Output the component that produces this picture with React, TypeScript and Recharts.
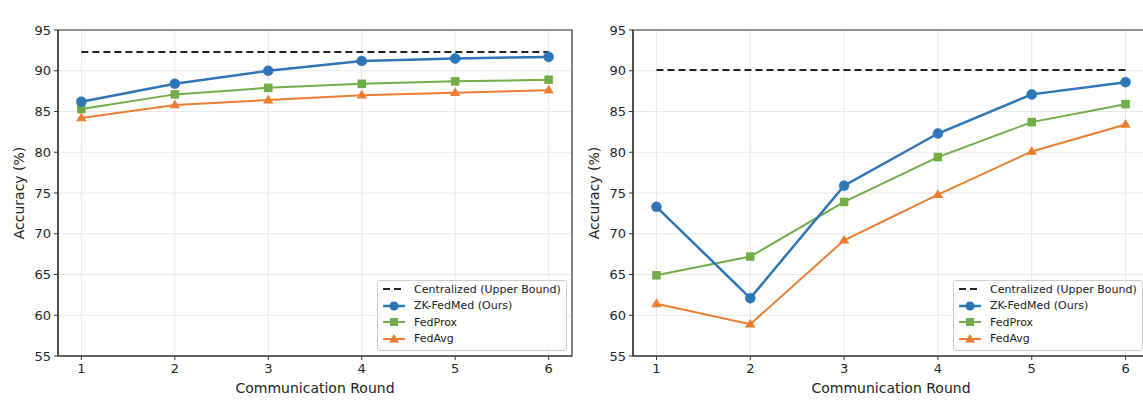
import React from 'react';
import { LineChart, Line, XAxis, YAxis, CartesianGrid, Legend, ReferenceArea } from 'recharts';

const rounds = [1, 2, 3, 4, 5, 6];
const yTicks = [55, 60, 65, 70, 75, 80, 85, 90, 95];

const cvdCentralized = [92.3, 92.3, 92.3, 92.3, 92.3, 92.3];
const cvdZkFedMed = [86.2, 88.4, 90.0, 91.2, 91.5, 91.7];
const cvdFedProx = [85.3, 87.1, 87.9, 88.4, 88.7, 88.9];
const cvdFedAvg = [84.2, 85.8, 86.4, 87.0, 87.3, 87.6];

const ckdCentralized = [90.1, 90.1, 90.1, 90.1, 90.1, 90.1];
const ckdZkFedMed = [73.3, 62.1, 75.9, 82.3, 87.1, 88.6];
const ckdFedProx = [64.9, 67.2, 73.9, 79.4, 83.7, 85.9];
const ckdFedAvg = [61.4, 58.9, 69.2, 74.8, 80.1, 83.4];

const seriesNames = ['Centralized (Upper Bound)', 'ZK-FedMed (Ours)', 'FedProx', 'FedAvg'];

const BLUE = '#2E75B6';
const GREEN = '#70AD47';
const ORANGE = '#ED7D31';
const DARK = '#222222';
const FONT = '"DejaVu Sans", Verdana, sans-serif';
const X_DOMAIN: [number, number] = [0.75, 6.25];
const Y_DOMAIN: [number, number] = [55, 95];

function build(c: number[], z: number[], p: number[], a: number[]) {
  return rounds.map((r, i) => ({ round: r, central: c[i], zk: z[i], prox: p[i], avg: a[i] }));
}

const CircleDot = (props: any) => {
  const { cx, cy, index } = props;
  if (cx == null || cy == null) return <g key={`c${index}`} />;
  return <circle key={`c${index}`} cx={cx} cy={cy} r={5} fill={BLUE} stroke={BLUE} strokeWidth={0.5} />;
};
const SquareDot = (props: any) => {
  const { cx, cy, index } = props;
  if (cx == null || cy == null) return <g key={`s${index}`} />;
  const s = 8.5;
  return <rect key={`s${index}`} x={cx - s / 2} y={cy - s / 2} width={s} height={s} fill={GREEN} />;
};
const TriDot = (props: any) => {
  const { cx, cy, index } = props;
  if (cx == null || cy == null) return <g key={`t${index}`} />;
  const r = 5.5;
  const pts = `${cx},${cy - r} ${cx - r * 0.95},${cy + r * 0.6} ${cx + r * 0.95},${cy + r * 0.6}`;
  return <polygon key={`t${index}`} points={pts} fill={ORANGE} />;
};

const LegendBox = () => {
  const rows = [
    { name: seriesNames[0], kind: 'dash' },
    { name: seriesNames[1], kind: 'circle' },
    { name: seriesNames[2], kind: 'square' },
    { name: seriesNames[3], kind: 'tri' },
  ];
  return (
    <div
      style={{
        border: '1px solid #cccccc',
        borderRadius: 3,
        background: 'rgba(255,255,255,0.85)',
        padding: '0px 4px 3px 3px',
        fontFamily: FONT,
        fontSize: 11,
        color: '#222',
        width: 190,
        boxSizing: 'border-box',
      }}
    >
      {rows.map((r) => (
        <div key={r.name} style={{ display: 'flex', alignItems: 'center', height: 16.5 }}>
          <svg width={28} height={12} style={{ marginRight: 5, flexShrink: 0 }}>
            {r.kind === 'dash' && (
              <line x1={2} y1={6} x2={24} y2={6} stroke={DARK} strokeWidth={2} strokeDasharray="7 4" />
            )}
            {r.kind === 'circle' && (
              <g>
                <line x1={2} y1={6} x2={24} y2={6} stroke={BLUE} strokeWidth={2.5} />
                <circle cx={13} cy={6} r={4.5} fill={BLUE} />
              </g>
            )}
            {r.kind === 'square' && (
              <g>
                <line x1={2} y1={6} x2={24} y2={6} stroke={GREEN} strokeWidth={2} />
                <rect x={9} y={2} width={8} height={8} fill={GREEN} />
              </g>
            )}
            {r.kind === 'tri' && (
              <g>
                <line x1={2} y1={6} x2={24} y2={6} stroke={ORANGE} strokeWidth={2} />
                <polygon points="13,1 8,9.5 18,9.5" fill={ORANGE} />
              </g>
            )}
          </svg>
          <span style={{ whiteSpace: 'nowrap' }}>{r.name}</span>
        </div>
      ))}
    </div>
  );
};

type PanelProps = {
  title: string;
  data: any[];
  width: number;
  marginRight: number;
  legendLeft: number;
};

const Panel = ({ title, data, width, marginRight, legendLeft }: PanelProps) => {
  const height = 401;
  const top = 30;
  const bottom = 45;
  const yAxisW = 58;
  return (
    <LineChart
      width={width}
      height={height}
      data={data}
      margin={{ top, right: marginRight, bottom: 0, left: 0 }}
    >
      <CartesianGrid stroke="#e8e8e8" strokeWidth={1} />
      <XAxis
        dataKey="round"
        type="number"
        domain={X_DOMAIN}
        ticks={rounds}
        tick={{ fill: '#262626', fontSize: 13, fontFamily: FONT }}
        tickLine={{ stroke: '#333' }}
        tickSize={4}
        tickMargin={4}
        axisLine={{ stroke: '#333', strokeWidth: 1.2 }}
        height={bottom}
        label={{
          content: (p: any) => {
            const vb = p.viewBox || {};
            return (
              <text
                x={vb.x + vb.width / 2}
                y={389}
                textAnchor="middle"
                dominantBaseline="middle"
                fontFamily={FONT}
                fontSize={14}
                fill="#222"
              >
                Communication Round
              </text>
            );
          },
        }}
      />
      <XAxis
        xAxisId="top"
        orientation="top"
        dataKey="round"
        type="number"
        domain={X_DOMAIN}
        tick={false}
        tickLine={false}
        axisLine={false}
        height={0}
        label={{
          content: (p: any) => {
            const vb = p.viewBox || {};
            return (
              <text
                x={vb.x + vb.width / 2}
                y={18}
                textAnchor="middle"
                dominantBaseline="middle"
                fontFamily={FONT}
                fontSize={13}
                fontWeight="bold"
                fill="#111"
              >
                {title}
              </text>
            );
          },
        }}
      />
      <YAxis
        type="number"
        domain={Y_DOMAIN}
        ticks={yTicks}
        width={yAxisW}
        tick={{ fill: '#262626', fontSize: 13, fontFamily: FONT }}
        tickLine={{ stroke: '#333' }}
        tickSize={4}
        tickMargin={3}
        axisLine={{ stroke: '#333', strokeWidth: 1.2 }}
        label={{
          content: (p: any) => {
            const vb = p.viewBox || {};
            const cy = vb.y + vb.height / 2;
            return (
              <text
                x={20}
                y={cy}
                transform={`rotate(-90, 20, ${cy})`}
                textAnchor="middle"
                dominantBaseline="middle"
                fontFamily={FONT}
                fontSize={14}
                fill="#222"
              >
                Accuracy (%)
              </text>
            );
          },
        }}
      />
      <ReferenceArea
        x1={X_DOMAIN[0]}
        x2={X_DOMAIN[1]}
        y1={Y_DOMAIN[0]}
        y2={Y_DOMAIN[1]}
        fill="none"
        fillOpacity={0}
        stroke="#333"
        strokeWidth={1.2}
        ifOverflow="visible"
      />
      <Line
        dataKey="central"
        name={seriesNames[0]}
        stroke={DARK}
        strokeWidth={2}
        strokeDasharray="7 4"
        dot={false}
        activeDot={false}
        isAnimationActive={false}
      />
      <Line
        dataKey="avg"
        name={seriesNames[3]}
        stroke={ORANGE}
        strokeWidth={2}
        dot={TriDot}
        activeDot={false}
        isAnimationActive={false}
      />
      <Line
        dataKey="prox"
        name={seriesNames[2]}
        stroke={GREEN}
        strokeWidth={2}
        dot={SquareDot}
        activeDot={false}
        isAnimationActive={false}
      />
      <Line
        dataKey="zk"
        name={seriesNames[1]}
        stroke={BLUE}
        strokeWidth={2.5}
        dot={CircleDot}
        activeDot={false}
        isAnimationActive={false}
      />
      <Legend
        layout="vertical"
        align="center"
        verticalAlign="middle"
        content={() => <LegendBox />}
        wrapperStyle={{ left: legendLeft, top: 280, width: 'auto' }}
      />
    </LineChart>
  );
};

export default function App() {
  const cvd = build(cvdCentralized, cvdZkFedMed, cvdFedProx, cvdFedAvg);
  const ckd = build(ckdCentralized, ckdZkFedMed, ckdFedProx, ckdFedAvg);
  return (
    <div
      style={{
        position: 'absolute',
        left: 0,
        top: 0,
        width: 1143,
        height: 401,
        overflow: 'hidden',
        background: '#fff',
      }}
    >
      <div style={{ position: 'absolute', left: 0, top: 0 }}>
        <Panel title="Cardiovascular Disease Dataset" data={cvd} width={580} marginRight={8} legendLeft={377} />
      </div>
      <div style={{ position: 'absolute', left: 575, top: 0 }}>
        <Panel title="Chronic Kidney Disease Dataset" data={ckd} width={574} marginRight={0} legendLeft={378} />
      </div>
    </div>
  );
}
